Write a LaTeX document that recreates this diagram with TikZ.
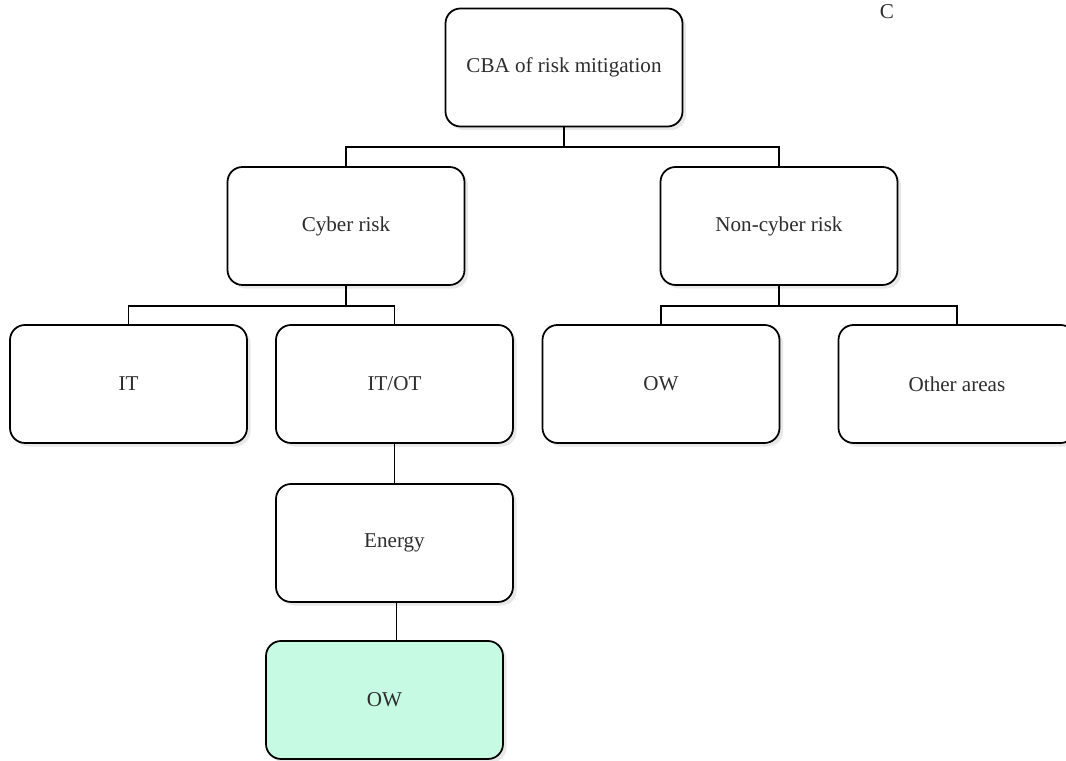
\documentclass[tikz,border=0pt]{standalone}
\usepackage{fontspec}
\setmainfont{Liberation Serif}
\usepackage{tikz}
\usetikzlibrary{shadows}

\definecolor{owgreen}{RGB}{198,250,226}
\definecolor{txtgray}{RGB}{45,45,45}

\begin{document}
\begin{tikzpicture}[every node/.style={text=txtgray,font=\fontsize{12}{14}\selectfont},
	riskbox/.style={draw=black,line width=1pt,rounded corners=0.3cm,fill=white,
		minimum width=4.74cm,minimum height=2.36cm,
		drop shadow={opacity=0.18,shadow xshift=2pt,shadow yshift=-2pt}},
	link/.style={line width=1pt}]
	\useasboundingbox (0,0) rectangle (21.32,15.22);
	\clip (0,0) rectangle (21.32,15.22);

	\node[riskbox] (cba) at (11.28,13.87) {CBA of risk mitigation};
	\node[riskbox] (cyber) at (6.92,10.70) {Cyber risk};
	\node[riskbox] (noncyber) at (15.58,10.70) {Non-cyber risk};
	\node[riskbox] (it) at (2.57,7.54) {IT};
	\node[riskbox] (itot) at (7.89,7.54) {IT/OT};
	\node[riskbox] (owa) at (13.22,7.54) {OW};
	\node[riskbox] (other) at (19.14,7.54) {Other areas};
	\node[riskbox] (energy) at (7.89,4.36) {Energy};
	\node[riskbox,fill=owgreen] (owb) at (7.69,1.22) {OW};

	\node (c) at (17.74,14.98) {C};

	\foreach \from/\to in {cba/cyber,cba/noncyber,cyber/it,cyber/itot,noncyber/owa,noncyber/other}
		\draw[link] (\from.south) -- ++(0,-0.4) -| (\to.north);
	\draw[link] (itot.south) -- (energy.north);
	\draw[link] ([xshift=0.04cm]energy.south) -- ([xshift=0.04cm]energy.south |- owb.north);

\end{tikzpicture}
\end{document}
